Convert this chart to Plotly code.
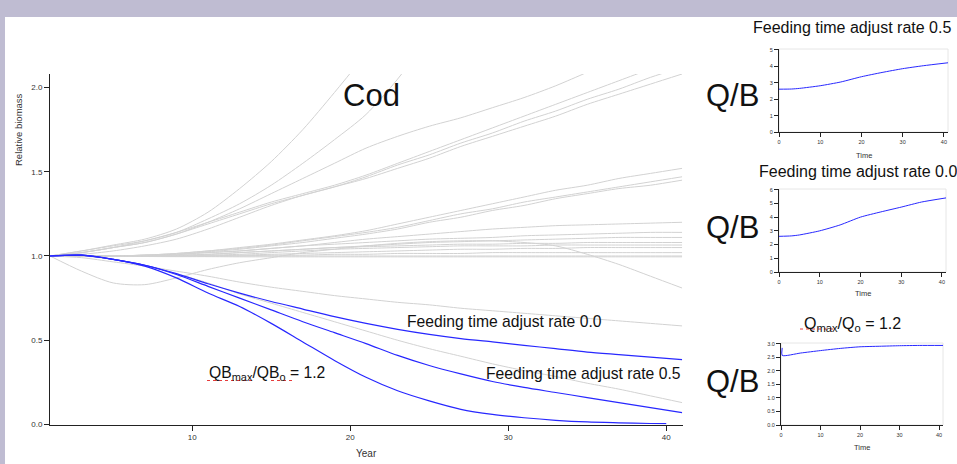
import plotly.graph_objects as go

W, H = 957, 464

# ---------------- data: main chart (Cod, relative biomass) ----------------
YEARS = [1, 3, 5, 7, 9, 11, 13, 15, 17, 19, 21, 23, 25, 27, 29, 31, 33, 35, 37, 39, 41]

BLUE_RATE00 = [1.0, 1.005, 0.98, 0.945, 0.895, 0.835, 0.78, 0.73, 0.685, 0.64, 0.60, 0.565,
               0.535, 0.51, 0.49, 0.47, 0.45, 0.43, 0.415, 0.40, 0.385]
BLUE_RATE05 = [1.0, 1.005, 0.98, 0.945, 0.89, 0.82, 0.75, 0.68, 0.61, 0.545, 0.48, 0.41,
               0.35, 0.30, 0.255, 0.22, 0.19, 0.16, 0.13, 0.10, 0.07]
BLUE_QBMAX_YEARS = [1, 3, 5, 7, 9, 11, 13, 15, 17, 19, 21, 23, 25, 27, 29, 31, 33, 35, 37, 39, 40]
BLUE_QBMAX = [1.0, 1.005, 0.98, 0.94, 0.87, 0.78, 0.70, 0.60, 0.49, 0.38, 0.28, 0.20,
              0.14, 0.09, 0.06, 0.04, 0.025, 0.015, 0.01, 0.006, 0.005]

GRAY_UP1 = [1.0, 1.03, 1.065, 1.10, 1.16, 1.26, 1.40, 1.56, 1.75, 1.97, 2.2, None, None, None,
            None, None, None, None, None, None, None]
GRAY_UP2 = [1.0, 1.03, 1.06, 1.09, 1.14, 1.22, 1.31, 1.42, 1.55, 1.69, 1.84, 2.05, 2.3, None,
            None, None, None, None, None, None, None]
GRAY_UP3 = [1.0, 1.02, 1.05, 1.08, 1.13, 1.20, 1.28, 1.37, 1.46, 1.55, 1.64, 1.71, 1.77, 1.82,
            1.88, 1.94, 2.01, 2.09, 2.17, None, None]
GRAY_UP4 = [1.0, 1.02, 1.05, 1.09, 1.14, 1.20, 1.26, 1.32, 1.37, 1.42, 1.48, 1.55, 1.62, 1.69,
            1.76, 1.83, 1.90, 1.97, 2.04, 2.11, 2.18]
GRAY_UP5 = [1.0, 1.02, 1.05, 1.08, 1.13, 1.19, 1.25, 1.31, 1.36, 1.41, 1.47, 1.54, 1.60, 1.67,
            1.73, 1.80, 1.86, 1.93, 1.99, 2.06, 2.12]
GRAY_UP6 = [1.0, 1.01, 1.03, 1.06, 1.10, 1.16, 1.23, 1.30, 1.36, 1.41, 1.46, 1.52, 1.58, 1.65,
            1.71, 1.77, 1.83, 1.90, 1.96, 2.02, 2.08]
GRAY_MID1 = [1.0, 1.0, 1.0, 1.005, 1.015, 1.03, 1.05, 1.07, 1.095, 1.12, 1.15, 1.19, 1.23, 1.27,
             1.31, 1.35, 1.39, 1.42, 1.46, 1.49, 1.52]
GRAY_MID2 = [1.0, 1.0, 1.0, 1.005, 1.015, 1.03, 1.045, 1.065, 1.09, 1.115, 1.14, 1.17, 1.21, 1.25,
             1.28, 1.32, 1.35, 1.38, 1.41, 1.44, 1.47]
GRAY_MID3 = [1.0, 1.0, 1.0, 1.0, 1.01, 1.025, 1.04, 1.06, 1.08, 1.105, 1.13, 1.16, 1.20, 1.23,
             1.27, 1.30, 1.34, 1.37, 1.40, 1.42, 1.45]
GRAY_FLAT1 = [1.0, 1.0, 1.0, 1.005, 1.01, 1.02, 1.03, 1.045, 1.06, 1.08, 1.10, 1.115, 1.13, 1.145,
              1.16, 1.17, 1.18, 1.185, 1.19, 1.195, 1.20]
GRAY_FLAT2 = [1.0, 1.0, 1.0, 1.005, 1.01, 1.02, 1.03, 1.045, 1.06, 1.07, 1.08, 1.09, 1.10, 1.105,
              1.11, 1.12, 1.125, 1.13, 1.135, 1.14, 1.14]
GRAY_FLAT3 = [1.0, 1.0, 1.0, 1.0, 1.005, 1.01, 1.02, 1.03, 1.04, 1.05, 1.06, 1.07, 1.08, 1.085,
              1.09, 1.095, 1.10, 1.105, 1.11, 1.11, 1.11]
GRAY_FLAT4 = [1.0, 1.0, 1.0, 1.0, 1.005, 1.01, 1.02, 1.03, 1.04, 1.05, 1.055, 1.06, 1.065, 1.07,
              1.07, 1.075, 1.075, 1.08, 1.08, 1.08, 1.08]
GRAY_FLAT5 = [1.0, 1.0, 1.0, 1.0, 1.0, 1.005, 1.01, 1.02, 1.03, 1.04, 1.045, 1.05, 1.055, 1.06,
              1.06, 1.06, 1.065, 1.065, 1.065, 1.065, 1.065]
GRAY_FLAT6 = [1.0, 1.0, 1.0, 1.0, 1.0, 1.0, 1.005, 1.01, 1.015, 1.02, 1.025, 1.03, 1.035, 1.04,
              1.04, 1.045, 1.045, 1.05, 1.05, 1.05, 1.05]
GRAY_FLAT7 = [1.0, 1.0, 1.0, 1.0, 1.0, 1.0, 1.0, 1.005, 1.005, 1.01, 1.01, 1.015, 1.015, 1.015,
              1.02, 1.02, 1.02, 1.02, 1.02, 1.02, 1.02]
GRAY_FLAT8 = [1.0, 1.0, 1.0, 1.0, 1.0, 1.0, 1.0, 1.0, 1.0, 1.0, 1.0, 1.0, 1.0, 1.0,
              1.0, 1.0, 1.0, 1.0, 1.0, 1.0, 1.0]
GRAY_FLAT9 = [1.0, 1.0, 0.998, 0.997, 0.996, 0.996, 0.995, 0.995, 0.995, 0.995, 0.995, 0.995,
              0.995, 0.995, 0.995, 0.995, 0.995, 0.995, 0.995, 0.995, 0.995]
GRAY_DIP = [1.0, 0.91, 0.84, 0.83, 0.87, 0.92, 0.96, 0.99, 1.02, 1.04, 1.06, 1.075, 1.085, 1.09,
            1.09, 1.08, 1.06, 1.01, 0.95, 0.88, 0.81]
GRAY_DOWN1 = [1.0, 0.99, 0.965, 0.94, 0.91, 0.88, 0.845, 0.815, 0.79, 0.765, 0.745, 0.725, 0.71,
              0.69, 0.675, 0.66, 0.645, 0.63, 0.615, 0.60, 0.585]
GRAY_DOWN2 = [1.0, 1.0, 0.98, 0.945, 0.895, 0.84, 0.775, 0.72, 0.665, 0.61, 0.555, 0.50, 0.45,
              0.405, 0.36, 0.32, 0.285, 0.245, 0.21, 0.17, 0.13]

# ---------------- data: Q/B inset charts ----------------
QB_TIME = [0, 3, 5, 10, 15, 20, 25, 30, 35, 41]
QB_RATE05 = [2.61, 2.62, 2.66, 2.82, 3.05, 3.37, 3.63, 3.86, 4.04, 4.22]
QB_RATE00 = [2.6, 2.63, 2.7, 3.0, 3.43, 4.0, 4.38, 4.73, 5.1, 5.4]
QB_QMAX_TIME = [0.3, 0.3, 5, 10, 15, 20, 25, 30, 35, 41]
QB_QMAX = [2.85, 2.57, 2.66, 2.75, 2.83, 2.89, 2.91, 2.93, 2.94, 2.94]

MAIN_X_TICKS = [10, 20, 30, 40]
MAIN_Y_TICKS = [0.0, 0.5, 1.0, 1.5, 2.0]
SMALL_X_TICKS = [0, 10, 20, 30, 40]
QB1_Y_TICKS = [0, 1, 2, 3, 4, 5]
QB2_Y_TICKS = [0, 1, 2, 3, 4, 5, 6]
QB3_Y_TICKS = [0.0, 0.5, 1.0, 1.5, 2.0, 2.5, 3.0]


def px(x):
    return x / W


def py(y):
    return 1 - y / H


FONT = "Liberation Sans, Arial, Helvetica, sans-serif"
BLUE = "rgb(40,40,255)"
GRAY = "#d2d2d2"
LAVENDER = "#BFBCD2"

fig = go.Figure()

gray_lines = [GRAY_UP1, GRAY_UP2, GRAY_UP3, GRAY_UP4, GRAY_UP5, GRAY_UP6,
              GRAY_MID1, GRAY_MID2, GRAY_MID3,
              GRAY_FLAT1, GRAY_FLAT2, GRAY_FLAT3, GRAY_FLAT4, GRAY_FLAT5, GRAY_FLAT6,
              GRAY_FLAT7, GRAY_FLAT8, GRAY_FLAT9, GRAY_DIP, GRAY_DOWN1, GRAY_DOWN2]
for g in gray_lines:
    fig.add_trace(go.Scatter(x=YEARS, y=g, mode="lines", xaxis="x", yaxis="y",
                             line=dict(color=GRAY, width=1, shape="spline", smoothing=0.8),
                             hoverinfo="skip", showlegend=False))

for xs, ys in [(YEARS, BLUE_RATE00), (YEARS, BLUE_RATE05), (BLUE_QBMAX_YEARS, BLUE_QBMAX)]:
    fig.add_trace(go.Scatter(x=xs, y=ys, mode="lines", xaxis="x", yaxis="y",
                             line=dict(color=BLUE, width=1.2, shape="spline", smoothing=0.8),
                             showlegend=False))

for ax, xs, ys in [("2", QB_TIME, QB_RATE05), ("3", QB_TIME, QB_RATE00), ("4", QB_QMAX_TIME, QB_QMAX)]:
    fig.add_trace(go.Scatter(x=xs, y=ys, mode="lines", xaxis="x" + ax, yaxis="y" + ax,
                             line=dict(color=BLUE, width=1, shape="spline", smoothing=0.6),
                             showlegend=False))

panels = [
    dict(id="", ov_x="5", ov_y="5", xd=(50, 683), yd=(74, 424.5), xr=[1, 41.06], yr=[0, 2.08],
         xt=MAIN_X_TICKS, yt=MAIN_Y_TICKS, yfmt=".1f", tl=5, fs=8),
    dict(id="2", ov_x="6", ov_y="6", xd=(779, 948), yd=(49, 132), xr=[0, 41], yr=[0, 5.06],
         xt=SMALL_X_TICKS, yt=QB1_Y_TICKS, yfmt="d", tl=4, fs=5.5),
    dict(id="3", ov_x="7", ov_y="7", xd=(779, 946), yd=(189, 272), xr=[0, 41], yr=[0, 6.05],
         xt=SMALL_X_TICKS, yt=QB2_Y_TICKS, yfmt="d", tl=4, fs=5.5),
    dict(id="4", ov_x="8", ov_y="8", xd=(781, 943), yd=(343, 425), xr=[0, 41], yr=[0, 3.03],
         xt=SMALL_X_TICKS, yt=QB3_Y_TICKS, yfmt=".1f", tl=4, fs=5.5),
]

layout_axes = {}
shapes = [
    # lavender slide frame: top band and left strip
    dict(type="rect", xref="paper", yref="paper", x0=-0.01, x1=1.01, y0=py(17), y1=1.01,
         fillcolor=LAVENDER, line=dict(width=0), layer="below"),
    dict(type="rect", xref="paper", yref="paper", x0=-0.01, x1=px(5), y0=-0.01, y1=1.01,
         fillcolor=LAVENDER, line=dict(width=0), layer="below"),
]
for p in panels:
    xname = "xaxis" + p["id"]
    yname = "yaxis" + p["id"]
    xref = "x" + p["id"]
    yref = "y" + p["id"]
    xdom = [px(p["xd"][0]), px(p["xd"][1])]
    ydom = [py(p["yd"][1]), py(p["yd"][0])]
    common = dict(showgrid=False, zeroline=False, showline=True, linecolor="#222", linewidth=1,
                  ticks="outside", ticklen=p["tl"], tickwidth=1, tickcolor="#222",
                  automargin=False,
                  tickfont=dict(family=FONT, size=p["fs"], color="#333"), fixedrange=True)
    layout_axes[xname] = dict(domain=xdom, range=p["xr"], anchor=yref, tickmode="array",
                              tickvals=p["xt"], **common)
    layout_axes[yname] = dict(domain=ydom, range=p["yr"], anchor=xref, tickmode="array",
                              tickvals=p["yt"], tickformat=p["yfmt"], **common)
    inner = dict(showgrid=False, zeroline=False, showline=False, ticks="inside",
                 ticklen=p["tl"], tickwidth=1, tickcolor="#222", showticklabels=False,
                 automargin=False, fixedrange=True)
    layout_axes["xaxis" + p["ov_x"]] = dict(overlaying=xref, matches=xref, anchor=yref,
                                             side="bottom", tickmode="array",
                                             tickvals=p["xt"], range=p["xr"], **inner)
    layout_axes["yaxis" + p["ov_y"]] = dict(overlaying=yref, matches=yref, anchor=xref,
                                             side="left", tickmode="array",
                                             tickvals=p["yt"], range=p["yr"], **inner)
    if p["id"] != "":
        shapes.append(dict(type="rect", xref=xref + " domain", yref=yref + " domain",
                           x0=0, x1=1, y0=0, y1=1, line=dict(color="#e6e6e6", width=1),
                           layer="below"))

for x0, x1, y in [(207, 252, 380.5), (271, 292, 380.5), (800, 835, 329)]:
    shapes.append(dict(type="line", xref="paper", yref="paper", x0=px(x0), x1=px(x1),
                       y0=py(y), y1=py(y), line=dict(color="rgb(230,60,60)", width=1, dash="dot")))


def ann(text, x, y, size, xanchor="center", angle=0, color="#111"):
    return dict(text=text, x=px(x), y=py(y), xref="paper", yref="paper", showarrow=False,
                xanchor=xanchor, yanchor="middle", textangle=angle,
                font=dict(family=FONT, size=size, color=color))


annotations = [
    ann("Cod", 371.5, 96, 31),
    ann("Q/B", 732, 95, 31),
    ann("Q/B", 732, 227, 31),
    ann("Q/B", 732, 381, 31),
    ann("Feeding time adjust rate 0.5", 852, 28, 16),
    ann("Feeding time adjust rate 0.0", 757, 171, 16, xanchor="left"),
    ann("Q<sub>max</sub>/Q<sub>o</sub> = 1.2", 852, 324, 16),
    ann("Feeding time adjust rate 0.0", 405, 321, 15.7, xanchor="left"),
    ann("Feeding time adjust rate 0.5", 484, 373, 15.7, xanchor="left"),
    ann("QB<sub>max</sub>/QB<sub>o</sub> = 1.2", 207, 373, 15.7, xanchor="left"),
    ann("Relative biomass", 18, 130, 9.5, angle=-90, color="#333"),
    ann("Year", 366, 453, 10, color="#333"),
    ann("Time", 863.5, 155, 7.5, color="#333"),
    ann("Time", 862.5, 293, 7.5, color="#333"),
    ann("Time", 862, 447, 7.5, color="#333"),
]

fig.update_layout(
    template="none",
    width=W, height=H,
    autosize=False,
    margin=dict(l=0, r=0, t=0, b=0, pad=0, autoexpand=False),
    paper_bgcolor="white",
    plot_bgcolor="white",
    showlegend=False,
    shapes=shapes,
    annotations=annotations,
    **layout_axes,
)

fig.write_html("out.html", config={"displayModeBar": False})
